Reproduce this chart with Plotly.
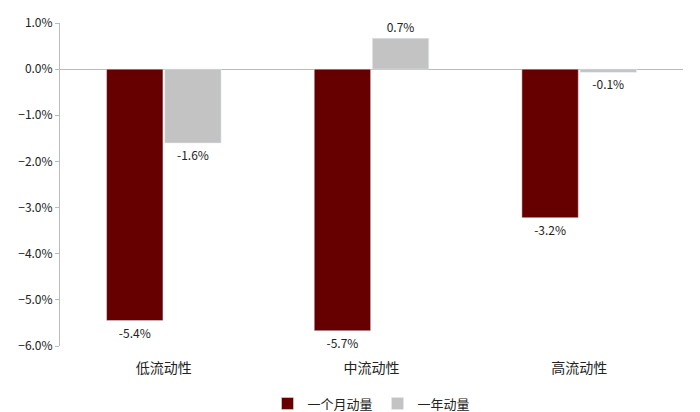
import plotly.graph_objs as go

categories = ['低流动性', '中流动性', '高流动性']
one_month = [-0.0545, -0.0567, -0.0322]
one_year = [-0.016, 0.0067, -0.0007]
month_labels = ['-5.4%', '-5.7%', '-3.2%']
year_labels = ['-1.6%', '0.7%', '-0.1%']

fig = go.Figure()
fig.add_trace(go.Bar(x=categories, y=one_month, name='一个月动量',
                     marker_color='#660000', text=month_labels,
                     textposition='outside', cliponaxis=False))
fig.add_trace(go.Bar(x=categories, y=one_year, name='一年动量',
                     marker_color='#c3c3c3', text=year_labels,
                     textposition='outside', cliponaxis=False))

fig.update_layout(
    width=700, height=412,
    margin=dict(l=52, r=25, t=15, b=74, autoexpand=False),
    paper_bgcolor='white', plot_bgcolor='white',
    font=dict(family='Noto Sans CJK SC', size=12, color='#222'),
    bargap=0.44, bargroupgap=0.03,
    legend=dict(orientation='h', x=0.5, xanchor='center', yref='container',
                y=0.04, yanchor='middle', font=dict(size=13)),
)
fig.update_traces(textfont=dict(size=12, color='#222'))
fig.update_xaxes(showline=False, tickfont=dict(size=14), ticks='',
                 ticklabelstandoff=12, automargin=False)
fig.update_yaxes(range=[-0.06, 0.01], dtick=0.01, tickformat='.1%',
                 showgrid=False, showline=True, linecolor='#bbb',
                 zeroline=True, zerolinecolor='#bbb', zerolinewidth=1,
                 ticks='outside', ticklen=4, tickcolor='#bbb',
                 tickfont=dict(size=12), automargin=False)

fig.write_html("out.html")
